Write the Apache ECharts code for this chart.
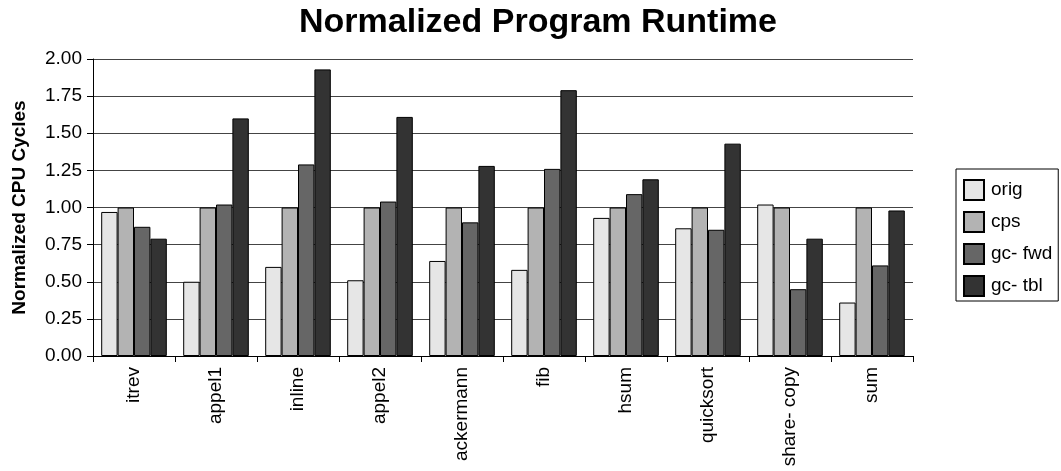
<!DOCTYPE html>
<html>
<head>
<meta charset="utf-8">
<style>
  html, body { margin: 0; padding: 0; background: #fff; }
  #chart { width: 1061px; height: 471px; }
</style>
<script src="https://cdn.jsdelivr.net/npm/echarts@6/dist/echarts.min.js"></script>
</head>
<body>
<div id="chart"></div>
<script>
// Benchmarks on the x axis
const categories = ['itrev', 'appel1', 'inline', 'appel2', 'ackermann', 'fib', 'hsum', 'quicksort', 'share- copy', 'sum'];

// Runtime normalized to the cps build
const orig   = [0.97, 0.50, 0.60, 0.51, 0.64, 0.58, 0.93, 0.86, 1.02, 0.36];
const cps    = [1.00, 1.00, 1.00, 1.00, 1.00, 1.00, 1.00, 1.00, 1.00, 1.00];
const gcFwd  = [0.87, 1.02, 1.29, 1.04, 0.90, 1.26, 1.09, 0.85, 0.45, 0.61];
const gcTbl  = [0.79, 1.60, 1.93, 1.61, 1.28, 1.79, 1.19, 1.43, 0.79, 0.98];

const seriesNames = ['orig', 'cps', 'gc- fwd', 'gc- tbl'];
const seriesData = [orig, cps, gcFwd, gcTbl];
const seriesColors = ['#e6e6e6', '#b3b3b3', '#666666', '#333333'];

const FONT = '"Liberation Sans", Arial, sans-serif';

const chart = echarts.init(document.getElementById('chart'), null, { renderer: 'canvas' });

chart.setOption({
  backgroundColor: '#ffffff',
  animation: false,
  title: {
    text: 'Normalized Program Runtime',
    left: 533,
    textAlign: 'center',
    top: 1,
    textStyle: { fontFamily: FONT, fontSize: 34, fontWeight: 'bold', color: '#000' }
  },
  legend: {
    orient: 'vertical',
    left: 956,
    top: 169,
    itemWidth: 20,
    itemHeight: 20,
    itemGap: 10,
    padding: [10, 6, 4, 7],
    borderColor: '#000',
    borderWidth: 1,
    icon: 'rect',
    textStyle: { fontFamily: FONT, fontSize: 19, color: '#000', padding: [0, 0, 0, 2] },
    data: seriesNames
  },
  grid: { left: 93, right: 148, top: 59, bottom: 115 },
  xAxis: {
    type: 'category',
    data: categories,
    axisLine: { lineStyle: { color: '#000', width: 1 } },
    axisTick: { show: true, length: 6, lineStyle: { color: '#000' } },
    axisLabel: {
      interval: 0,
      rotate: 90,
      margin: 11,
      fontFamily: FONT,
      fontSize: 19,
      color: '#000'
    }
  },
  yAxis: {
    type: 'value',
    min: 0,
    max: 2,
    interval: 0.25,
    name: 'Normalized CPU Cycles',
    nameLocation: 'middle',
    nameGap: 64,
    nameTextStyle: { fontFamily: FONT, fontSize: 19, fontWeight: 'bold', color: '#000' },
    axisLine: { show: true, lineStyle: { color: '#000', width: 1 } },
    axisTick: { show: true, length: 6, lineStyle: { color: '#000' } },
    axisLabel: {
      margin: 11,
      fontFamily: FONT,
      fontSize: 19,
      color: '#000',
      formatter: v => v.toFixed(2)
    },
    splitLine: { show: true, lineStyle: { color: '#444', width: 1 } }
  },
  series: seriesNames.map((name, i) => ({
    name: name,
    type: 'bar',
    data: seriesData[i],
    barGap: '0%',
    barCategoryGap: '20%',
    itemStyle: { color: seriesColors[i], borderColor: '#000', borderWidth: 1 }
  }))
});
</script>
</body>
</html>
